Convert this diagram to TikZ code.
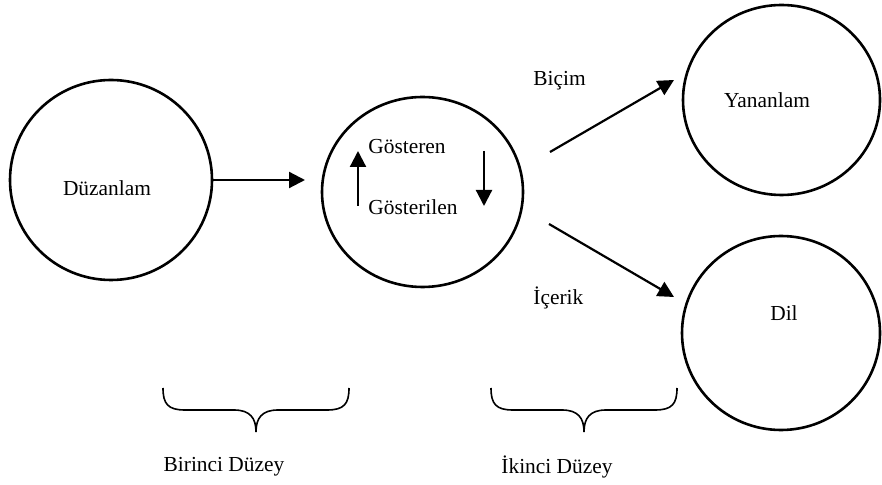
\documentclass[tikz,border=0pt]{standalone}
\usepackage{fontspec}
\setmainfont{Liberation Serif}
\usetikzlibrary{arrows.meta,shapes.geometric}
\begin{document}
\begin{tikzpicture}[x=0.5pt,y=-0.5pt,
  every node/.style={font=\fontsize{10.7}{13}\selectfont, inner sep=0pt},
  circ/.style={draw, ellipse, line width=1.3pt},
  arr/.style={line width=1.1pt, -{Triangle[length=8pt,width=8pt]}},
  brace/.style={line width=0.8pt},
  lbl/.style={anchor=west}]
\useasboundingbox (0,0) rectangle (882,485);
% circles
\node[circ, minimum width=101pt, minimum height=100pt] (d) at (111,180) {};
\node at (107,188) {Düzanlam};
\node[circ, minimum width=100.5pt, minimum height=95pt] (g) at (422.5,192) {};
\node[circ, minimum width=98.5pt, minimum height=95pt] (y) at (781.5,100) {};
\node at (767,100) {Yananlam};
\node[circ, minimum width=99pt, minimum height=97pt] (dl) at (781,333) {};
\node at (784,313) {Dil};
% inner texts
\node[lbl] (gs) at (368,147) {Gösteren};
\node[lbl] (gl) at (368,207) {Gösterilen};
\coordinate (u1) at (358,206);
\coordinate (u2) at (358,151);
\coordinate (v1) at (484,151);
\coordinate (v2) at (484,206);
\draw[arr] (u1) -- (u2);
\draw[arr] (v1) -- (v2);
% main arrows
\coordinate (h2) at (305,180);
\draw[arr] (d.east) -- (h2);
\coordinate (b1) at (550,152);
\coordinate (b2) at (674,80);
\draw[arr] (b1) -- (b2);
\coordinate (c1) at (549,224);
\coordinate (c2) at (674,297);
\draw[arr] (c1) -- (c2);
\node[lbl] (bi) at (533,81) {Biçim};
\node[lbl] (ic) at (533,298) {İçerik};
% braces
\draw[brace] (163,388) .. controls (163,404) and (168,410) .. (185,410)
  -- (234,410) .. controls (250,410) and (256,418) .. (256,432)
  .. controls (256,418) and (262,410) .. (278,410)
  -- (327,410) .. controls (344,410) and (349,404) .. (349,388);
\draw[brace] (491,388) .. controls (491,404) and (496,410) .. (513,410)
  -- (562,410) .. controls (578,410) and (584,418) .. (584,432)
  .. controls (584,418) and (590,410) .. (606,410)
  -- (655,410) .. controls (672,410) and (677,404) .. (677,388);
\node (l1) at (224,467) {Birinci Düzey};
\node (l2) at (557,467) {İkinci Düzey};
\end{tikzpicture}
\end{document}
